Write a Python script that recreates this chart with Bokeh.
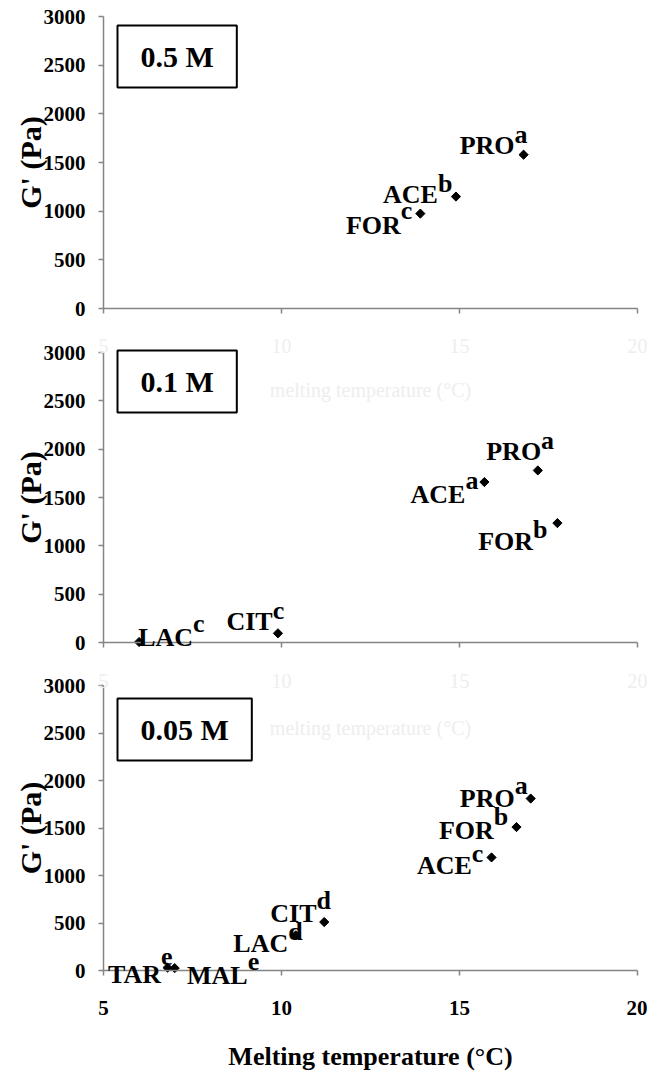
import numpy as np
from bokeh.plotting import figure
from bokeh.models import Range1d, FixedTicker, Label, LabelSet, ColumnDataSource
from bokeh.layouts import column
from bokeh.embed import file_html
from bokeh.resources import INLINE
from bokeh.core.properties import value

FONT = "Liberation Serif"

# ---------------- data ----------------
conc_labels = ["0.5 M", "0.1 M", "0.05 M"]
x_ticks = [5, 10, 15, 20]
y_ticks = [0, 500, 1000, 1500, 2000, 2500, 3000]
x_title = "Melting temperature (°C)"
y_title = "G' (Pa)"
ghost_title = "melting temperature (°C)"
ghost_ticks = [5, 10, 15, 20]

p1_names = ["PRO", "ACE", "FOR"]
p1_sup = ["a", "b", "c"]
p1_x = [16.8, 14.9, 13.9]
p1_y = [1580, 1150, 975]

p2_names = ["PRO", "ACE", "FOR", "CIT", "LAC"]
p2_sup = ["a", "a", "b", "c", "c"]
p2_x = [17.2, 15.7, 17.75, 9.9, 6.0]
p2_y = [1780, 1660, 1235, 95, 5]

p3_names = ["PRO", "FOR", "ACE", "CIT", "LAC", "TAR", "MAL"]
p3_sup = ["a", "b", "c", "d", "d", "e", "e"]
p3_x = [17.0, 16.6, 15.9, 11.2, 10.4, 6.8, 7.0]
p3_y = [1810, 1510, 1190, 510, 370, 30, 25]

# ---------------- label layout (screen px, y down) ----------------
# junction x offset, main-text baseline offset, superscript baseline offset
p1_dx = [-9, -18, -19.5]
p1_dy = [-1, 6, 20]
p1_sy = [-12, -5, 5]

p2_dx = [3.3, -19, -24.3, -5.3, 54]
p2_dy = [-10.7, 21, 27.3, -3.4, 4.3]
p2_sy = [-21.7, 6.7, 14.7, -14.4, -10]

p3_dx = [-16, -22.7, -19.7, -7.7, -7.5, -6.5, 73]
p3_dy = [8.4, 11.6, 16.7, 0, 16.7, 15.8, 15.8]
p3_sy = [-4.3, -1.7, 4.4, -13.4, 4.3, -2.5, 1.8]

AXIS_COLOR = "#858585"
GHOST_COLOR = "#eeeeee"
W = 647
AX_L, AX_R = 103, 637          # pixel columns of x = 5 and x = 20
XMIN, XMAX = 5, 20


def make_panel(names, sups, xs, ys, dx, dy, sy, conc, box_off,
               fig_span, core, last, ghost=None):
    fig_top, fig_bot = fig_span
    core_top, core_bot = core
    yscale = 3000.0 / (core_bot - core_top)
    xscale = (XMAX - XMIN) / float(AX_R - AX_L)
    p = figure(width=W, height=fig_bot - fig_top,
               x_range=Range1d(XMIN - AX_L * xscale, XMAX + (W - AX_R) * xscale),
               y_range=Range1d(-(fig_bot - core_bot) * yscale,
                               3000 + (core_top - fig_top) * yscale),
               output_backend="svg", toolbar_location=None,
               min_border=0, min_border_left=0, min_border_right=0,
               min_border_top=0, min_border_bottom=0)
    p.outline_line_color = None
    p.xgrid.visible = False
    p.ygrid.visible = False
    p.background_fill_color = "white"
    p.border_fill_color = "white"

    for ax in (p.xaxis[0], p.yaxis[0]):
        ax.axis_line_color = AXIS_COLOR
        ax.axis_line_width = 1.5
        ax.major_tick_line_color = AXIS_COLOR
        ax.major_tick_line_width = 1.5
        ax.major_tick_out = 5
        ax.major_tick_in = 0
        ax.minor_tick_line_color = None
        ax.major_label_text_font = FONT
        ax.major_label_text_font_style = "bold"
        ax.major_label_text_font_size = "21px"
        ax.major_label_text_color = "black"

    p.xaxis.ticker = FixedTicker(ticks=x_ticks)
    p.xaxis.fixed_location = 0
    p.xaxis.bounds = (XMIN, XMAX)
    p.yaxis.ticker = FixedTicker(ticks=y_ticks)
    p.yaxis.fixed_location = XMIN
    p.yaxis.bounds = (0, 3000)
    p.yaxis.major_label_standoff = 13

    # y-axis title
    p.add_layout(Label(x=XMIN, y=1500, x_offset=-73, text=y_title, angle=np.pi / 2,
                       text_align="center", text_baseline="middle",
                       text_font=FONT, text_font_style="bold", text_font_size="30px",
                       text_color="black"))

    if last:
        p.xaxis.major_label_standoff = 25
        p.add_layout(Label(x=(XMIN + XMAX) / 2, y=0, y_offset=-86, text=x_title,
                           text_align="center", text_baseline="middle",
                           text_font=FONT, text_font_style="bold",
                           text_font_size="26px", text_color="black"))
    else:
        p.xaxis.major_label_overrides = {t: "" for t in x_ticks}
        p.xaxis.major_label_standoff = 0

    # ghost (very faint) axis texts left over in the original figure
    if ghost is not None:
        t_off, m_off = ghost
        for t in ghost_ticks:
            p.add_layout(Label(x=t, y=3000, y_offset=t_off, text=str(t),
                               text_align="center", text_baseline="middle",
                               text_font=FONT, text_font_size="20px",
                               text_color=GHOST_COLOR))
        p.add_layout(Label(x=(XMIN + XMAX) / 2, y=3000, y_offset=m_off, text=ghost_title,
                           text_align="center", text_baseline="middle",
                           text_font=FONT, text_font_size="20px",
                           text_color=GHOST_COLOR))

    src = ColumnDataSource(dict(x=xs, y=ys, name=names, sup=sups,
                                dx=dx, ndy=[-v for v in dy], nsy=[-v for v in sy]))
    p.scatter("x", "y", source=src, marker="square", angle=np.pi / 4, size=6.5,
              fill_color="black", line_color="black")

    common = dict(text_font=value(FONT), text_font_style="bold",
                  text_font_size="26px", text_color="black",
                  text_baseline="alphabetic")
    p.add_layout(LabelSet(x="x", y="y", text="name", x_offset="dx", y_offset="ndy",
                          text_align="right", source=src, **common))
    p.add_layout(LabelSet(x="x", y="y", text="sup", x_offset="dx", y_offset="nsy",
                          text_align="left", source=src, **common))

    bx, by = box_off
    p.add_layout(Label(x=XMIN, y=3000, x_offset=bx, y_offset=by, text=conc,
                       anchor="top_left", text_align="left", text_baseline="top",
                       text_font=FONT, text_font_style="bold", text_font_size="30px",
                       text_color="black",
                       padding=dict(left=23, right=23, top=14, bottom=15),
                       border_line_color="black", border_line_width=2,
                       background_fill_color="white"))
    return p


f1 = make_panel(p1_names, p1_sup, p1_x, p1_y, p1_dx, p1_dy, p1_sy, conc_labels[0],
                (14, -9), (0, 330), (16, 308), False)
f2 = make_panel(p2_names, p2_sup, p2_x, p2_y, p2_dx, p2_dy, p2_sy, conc_labels[1],
                (14, 2), (330, 663), (352, 642), False, ghost=(7, -37))
f3 = make_panel(p3_names, p3_sup, p3_x, p3_y, p3_dx, p3_dy, p3_sy, conc_labels[2],
                (14, -13), (663, 1079), (685, 970), True, ghost=(5, -42))

layout = column(f1, f2, f3, spacing=0)
open("out.html", "w").write(file_html(layout, INLINE))
